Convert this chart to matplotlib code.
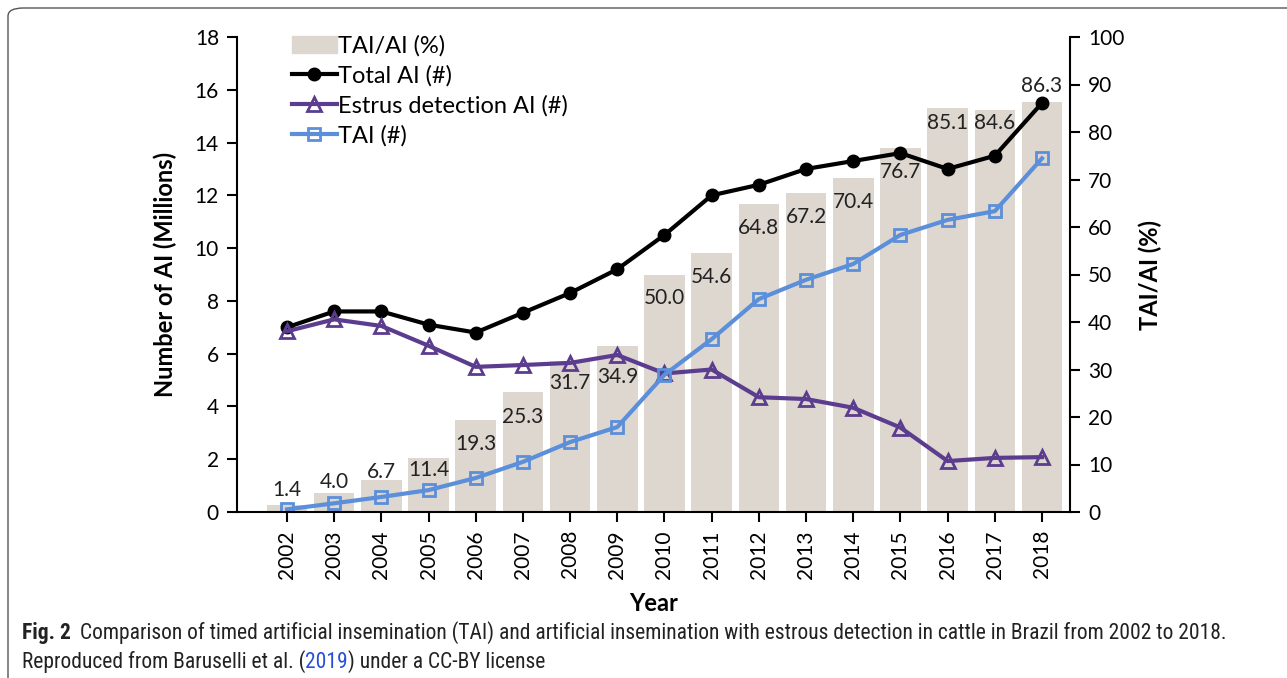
import matplotlib; matplotlib.use("Agg")
import matplotlib.pyplot as plt
from matplotlib import font_manager
import numpy as np
from matplotlib.patches import FancyBboxPatch, Patch

plt.rcParams.update({"font.family": ["Lato", "DejaVu Sans"], "font.size": 15})

years = list(range(2002, 2019))
tai_pct = [1.4, 4.0, 6.7, 11.4, 19.3, 25.3, 31.7, 34.9, 50.0, 54.6, 64.8, 67.2, 70.4, 76.7, 85.1, 84.6, 86.3]
total_ai = [7.0, 7.6, 7.6, 7.1, 6.8, 7.55, 8.3, 9.2, 10.5, 12.0, 12.4, 13.0, 13.3, 13.6, 13.0, 13.5, 15.5]
estrus_ai = [6.85, 7.3, 7.05, 6.3, 5.5, 5.57, 5.65, 5.95, 5.25, 5.4, 4.35, 4.28, 3.95, 3.2, 1.93, 2.05, 2.08]
tai_n = [0.1, 0.33, 0.57, 0.83, 1.29, 1.9, 2.65, 3.22, 5.2, 6.55, 8.07, 8.8, 9.4, 10.5, 11.07, 11.4, 13.4]

# label offsets from bar top (pixels, + = up), placed by hand in the original
lab_dy = [15, 11, 8, -12, -24, -25, -22, -31, -24, -24, -24, -24, -24, -24, -15, -13, 16]

BAR = "#ddd7d0"; PURP = "#5c3c8e"; BLUE = "#5b8fda"

W, H = 1287, 678
fig = plt.figure(figsize=(W/100, H/100), dpi=100)
fig.patches.append(FancyBboxPatch((8/W, -20/H), 1300/W, 690/H, boxstyle="round,pad=0,rounding_size=0.012",
                                  transform=fig.transFigure, fc="none", ec="#555555", lw=1.0))

ax = fig.add_axes([237/W, 1-512/H, (1070-237)/W, (512-37)/H])
ax2 = ax.twinx()
x = np.arange(len(years))

ax2.bar(x, tai_pct, width=0.86, color=BAR, zorder=1)
for xi, v, dy in zip(x, tai_pct, lab_dy):
    ax2.annotate(f"{v:.1f}", (xi, v), xytext=(0, dy), textcoords="offset pixels",
                 ha="center", va="center", fontsize=15, color="#222222")
ax2.set_ylim(0, 100); ax2.set_yticks(range(0, 101, 10))
ax2.set_ylabel("TAI/AI (%)", fontweight="bold", fontsize=17, labelpad=10)

ax.set_zorder(ax2.get_zorder()+1); ax.patch.set_visible(False)
l1, = ax.plot(x, total_ai, "-o", color="black", lw=3, ms=9)
l2, = ax.plot(x, estrus_ai, "-^", color=PURP, lw=3, ms=10, mfc="none", mew=2)
l3, = ax.plot(x, tai_n, "-s", color=BLUE, lw=3, ms=9, mfc="none", mew=2)
ax.set_ylim(0, 18); ax.set_yticks(range(0, 19, 2))
ax.set_xlim(-(287-237)/47.19, 16+(1070-1042)/47.19)
ax.set_xticks(x); ax.set_xticklabels([str(y) for y in years], rotation=90)
ax.set_xlabel("Year", fontweight="bold", fontsize=17, labelpad=10)
ax.set_ylabel("Number of AI (Millions)", fontweight="bold", fontsize=17, labelpad=13)

for a in (ax, ax2):
    a.spines["top"].set_visible(False)
    for s in a.spines.values(): s.set_linewidth(1.5)
    a.tick_params(width=1.5, length=7, direction="out", pad=6)
ax2.spines["left"].set_visible(False); ax2.spines["bottom"].set_visible(False)
ax.spines["right"].set_visible(False)

handles = [Patch(color=BAR), l1, l2, l3]
labels = ["TAI/AI (%)", "Total AI (#)", "Estrus detection AI (#)", "TAI (#)"]
ax.legend(handles, labels, loc="upper left", bbox_to_anchor=((292-237)/833, (512-35)/475), frameon=False,
          borderpad=0, borderaxespad=0, handlelength=1.9, handletextpad=0.05, labelspacing=0.36, fontsize=17)

# caption (condensed face if one is installed)
have = {f.name for f in font_manager.fontManager.ttflist}
cap = next((n for n in ["Liberation Sans Narrow", "DejaVu Sans Condensed", "Roboto Condensed", "Roboto"] if n in have), "DejaVu Sans")
fig.canvas.draw(); r = fig.canvas.get_renderer()
line1 = "Comparison of timed artificial insemination (TAI) and artificial insemination with estrous detection in cattle in Brazil from 2002 to 2018."
probe = fig.text(0, 0, line1, family=cap, fontsize=12)
cs = 12 * 1148 / probe.get_window_extent(r).width
probe.remove()
def put(xp, yp, s, **kw):
    t = fig.text(xp/W, 1-yp/H, s, va="center", ha="left", family=cap, fontsize=cs, **kw)
    return t.get_window_extent(r).x1
xe = put(22, 633, "Fig. 2", fontweight="bold", color="#222222")
put(xe+9, 633, line1, color="#222222")
xe = put(22, 662, "Reproduced from Baruselli et al. (", color="#222222")
xe = put(xe, 662, "2019", color="#2a4fd6")
put(xe, 662, ") under a CC-BY license", color="#222222")

fig.savefig("out.png", dpi=100)
